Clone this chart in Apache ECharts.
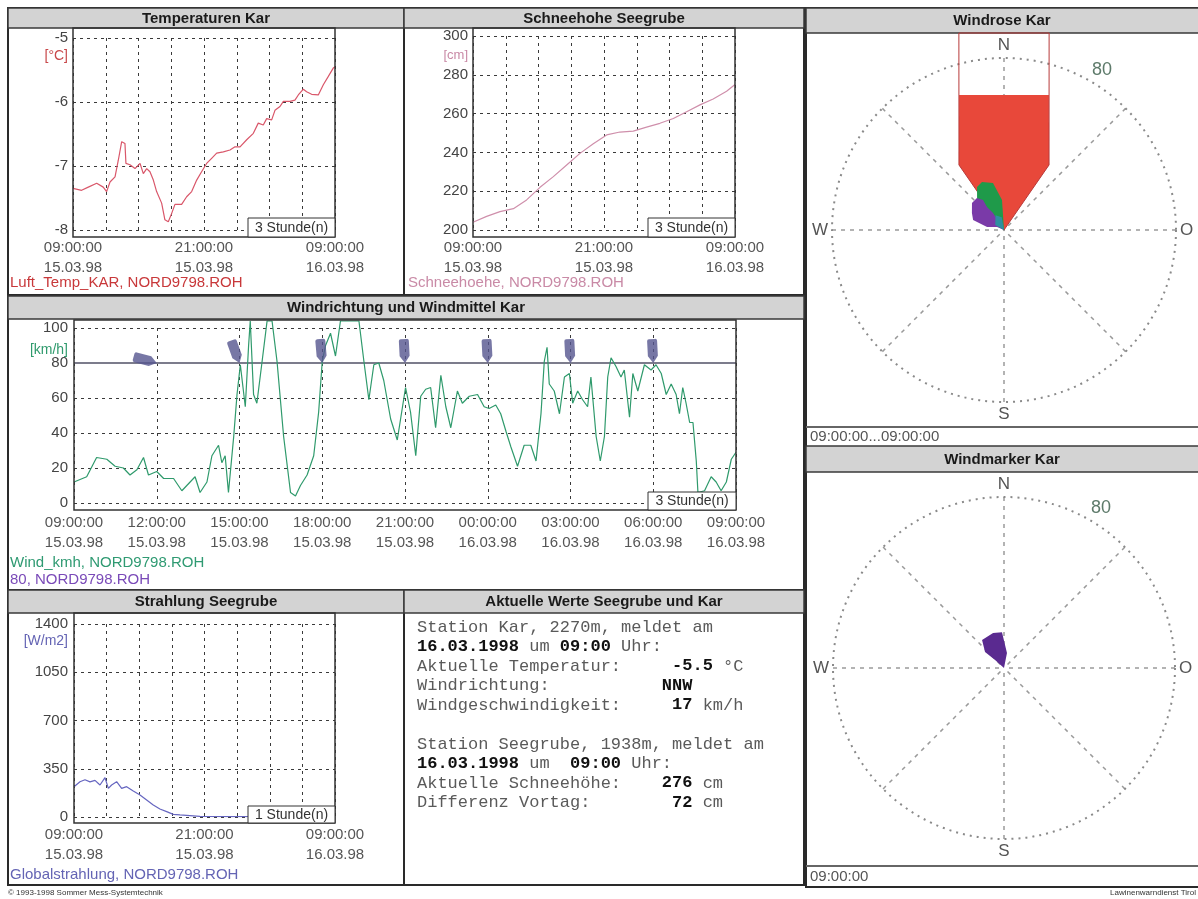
<!DOCTYPE html>
<html>
<head>
<meta charset="utf-8">
<script src="https://cdn.jsdelivr.net/npm/echarts@6.0.0/dist/echarts.min.js"></script>
<style>
html,body{margin:0;padding:0;background:#ffffff;}
#chart{width:1198px;height:899px;}
</style>
</head>
<body>
<div id="chart"></div>
<script>
// ---------------- DATA ----------------
const shortTimeTicks = ['09:00:00', '21:00:00', '09:00:00'];
const shortDateTicks = ['15.03.98', '15.03.98', '16.03.98'];
const windTimeTicks = ['09:00:00', '12:00:00', '15:00:00', '18:00:00', '21:00:00', '00:00:00', '03:00:00', '06:00:00', '09:00:00'];
const windDateTicks = ['15.03.98', '15.03.98', '15.03.98', '15.03.98', '15.03.98', '16.03.98', '16.03.98', '16.03.98', '16.03.98'];

// hours since 15.03.98 09:00
const tempHours = [0, 0.79, 1.4, 2.17, 2.77, 3.08, 3.39, 3.85, 4.15, 4.46, 4.76, 4.85, 5.22, 5.68, 6.14, 6.44, 6.75, 7.05, 7.36, 7.66, 8.12, 8.42, 8.73, 9.04, 9.34, 9.95, 10.41, 10.87, 11.33, 11.78, 12.24, 12.7, 13.16, 13.77, 14.38, 14.84, 15.3, 15.91, 16.52, 16.97, 17.43, 17.74, 18.2, 18.5, 18.96, 19.27, 19.88, 20.33, 20.64, 21.1, 21.4, 21.86, 22.47, 22.93, 23.39, 23.84, 24];
const tempValues = [-7.35, -7.38, -7.33, -7.27, -7.33, -7.4, -7.25, -7.17, -6.91, -6.62, -6.65, -6.96, -6.98, -7.04, -6.96, -7.12, -7.04, -7.09, -7.22, -7.4, -7.58, -7.84, -7.87, -7.74, -7.6, -7.6, -7.48, -7.4, -7.22, -7.09, -6.96, -6.88, -6.8, -6.78, -6.75, -6.7, -6.7, -6.59, -6.49, -6.33, -6.36, -6.26, -6.28, -6.13, -6.07, -5.99, -5.99, -5.97, -5.89, -5.8, -5.84, -5.88, -5.89, -5.73, -5.6, -5.47, -5.45];

const snowHours = [0, 1.25, 2.47, 3.7, 4.91, 6.14, 7.36, 8.58, 9.8, 11.02, 12.24, 13.46, 14.68, 15.9, 17.12, 18.35, 19.57, 20.79, 22.0, 23.23, 24];
const snowValues = [204, 207, 209.5, 211, 215.5, 222, 227.5, 233.5, 239.5, 244.5, 249, 250.5, 251, 253, 255, 257.5, 261, 264.5, 267.5, 271.5, 275];

const windHours = [0, 0.46, 0.82, 1.19, 1.49, 1.79, 2.03, 2.28, 2.52, 2.7,
  3.0, 3.25, 3.61, 3.91, 4.09, 4.39, 4.57, 4.82, 5.0, 5.24,
  5.36, 5.48, 5.6, 5.79, 5.91, 6.03, 6.21, 6.33, 6.39, 6.51,
  6.63, 6.82, 7.0, 7.18, 7.36, 7.6, 7.85, 8.03, 8.21, 8.45,
  8.69, 8.87, 9.0, 9.12, 9.3, 9.48, 9.66, 10.33, 10.51, 10.69,
  10.87, 11.05, 11.23, 11.48, 11.72, 12.02, 12.2, 12.39, 12.57, 12.75,
  12.93, 13.11, 13.3, 13.48, 13.66, 13.9, 14.08, 14.33, 14.63, 14.87,
  15.05, 15.29, 15.47, 15.66, 15.84, 16.08, 16.32, 16.56, 16.75, 16.93,
  17.05, 17.15, 17.23, 17.41, 17.6, 17.78, 17.96, 18.08, 18.26, 18.44,
  18.62, 18.74, 18.93, 19.08, 19.23, 19.35, 19.47, 19.65, 19.83, 19.95,
  20.14, 20.26, 20.44, 20.68, 20.92, 21.1, 21.29, 21.47, 21.65, 21.83,
  21.95, 22.07, 22.19, 22.32, 22.44, 22.56, 22.62, 22.86, 23.1, 23.28,
  23.46, 23.65, 23.83, 24];
const windValues = [12, 15, 26, 25, 21, 20, 16, 19, 26, 16,
  18, 14, 14, 7, 10, 15, 6, 12, 27, 33,
  23, 27, 6, 38, 62, 79, 55, 90, 104, 62,
  57, 81, 104, 104, 81, 38, 6, 4, 10, 16,
  27, 52, 81, 90, 97, 84, 104, 104, 81, 59,
  79, 80, 70, 48, 36, 66, 52, 27, 61, 65,
  66, 43, 73, 55, 43, 64, 57, 61, 62, 55,
  54, 56, 51, 41, 32, 21, 33, 33, 24, 51,
  81, 89, 68, 64, 51, 72, 74, 57, 64, 59,
  55, 72, 38, 24, 38, 72, 83, 78, 72, 76,
  49, 74, 64, 79, 76, 79, 74, 62, 68, 62,
  51, 66, 57, 46, 46, 24, 6, 7, 15, 12,
  7, 12, 25, 29];

const levelHours = [0, 24];
const levelValues = [80, 80];

const dirHours = [3, 6, 9, 12, 15, 18, 21];
const dirDegrees = [285, 340, 355, 357, 357, 357, 357];

const radHours = [0, 0.55, 1.01, 1.47, 1.93, 2.39, 2.85, 3.16, 3.46, 3.92, 4.38, 4.84, 5.45, 6.07, 6.68, 7.29, 7.9, 8.52, 9.13, 9.74, 11.58, 14.65, 17.71, 20.77, 24];
const radValues = [220, 256, 270, 255, 266, 232, 285, 208, 232, 256, 208, 220, 188, 159, 123, 87, 58, 39, 19, 15, 5, 3, 2, 2, 2];

// wind rose shapes as [speed km/h, direction deg]
const roseOutline = [[0, 0], [36.8, 325.3], [94.0, 347.1], [94.0, 12.9], [36.8, 34.7]];
const roseRed = [[0, 0], [36.8, 325.3], [66.2, 341.6], [66.2, 18.4], [36.8, 34.7]];
const roseGreen = [[0, 0], [14.8, 302.2], [23.6, 327.9], [24.6, 335.4], [22.4, 346.8], [14.0, 356.2]];
const rosePurple = [[0, 0], [3.5, 293.2], [8.0, 280], [15.1, 287.9], [16.9, 298], [19.5, 310.2], [19.5, 319.8], [17.0, 325], [13.3, 323.5], [9.4, 327.1]];
const roseTeal = [[0, 0], [4.7, 300], [7.9, 330], [6.0, 350]];
const markerShape = [[0, 0], [5.6, 311.6], [11.6, 310.1], [16.6, 321.8], [17.1, 342.6], [16.8, 356.8], [7.1, 11.3]];
const compassAngles = [0, 90, 180, 270];
const compassNames = ['N', 'O', 'S', 'W'];

const infoLines = [
  'Station Kar, 2270m, meldet am',
  '{b|16.03.1998} um {b|09:00} Uhr:',
  'Aktuelle Temperatur:     {b|-5.5} °C',
  'Windrichtung:           {b|NNW}',
  'Windgeschwindigkeit:     {b|17} km/h',
  '',
  'Station Seegrube, 1938m, meldet am',
  '{b|16.03.1998} um  {b|09:00} Uhr:',
  'Aktuelle Schneehöhe:    {b|276} cm',
  'Differenz Vortag:        {b|72} cm'
];

// ---------------- BUILD ----------------
const zip = (a, b) => a.map((x, i) => [x, b[i]]);
const FONT = 'Liberation Sans';
const C = {
  temp: '#d9576a', snow: '#cf8fab', wind: '#2f9a6c', level: '#7c7c8c', dir: '#55558f', rad: '#6666c0'
};

function timeAxis(gi, times, dates, step, margin) {
  return {
    type: 'value', gridIndex: gi, min: 0, max: 24, interval: 3,
    axisLine: { show: false }, axisTick: { show: false },
    splitLine: { show: true, lineStyle: { color: '#3a3a3a', type: [3, 4], width: 1 } },
    axisLabel: {
      margin: margin, color: '#555', fontFamily: FONT, fontSize: 15, lineHeight: 20,
      showMinLabel: true, showMaxLabel: true,
      formatter: function (v) {
        if (Math.abs(v / step - Math.round(v / step)) > 1e-6) return '';
        const i = Math.round(v / step);
        return times[i] + '\n' + dates[i];
      }
    }
  };
}
function valAxis(gi, min, max, interval, margin) {
  return {
    type: 'value', gridIndex: gi, min: min, max: max, interval: interval,
    axisLine: { show: false }, axisTick: { show: false },
    splitLine: { show: true, lineStyle: { color: '#3a3a3a', type: [3, 4], width: 1 } },
    axisLabel: {
      margin: margin, color: '#444', fontFamily: FONT, fontSize: 15,
      formatter: function (v) { return String(v); }
    }
  };
}
function lineSeries(gi, data, color, extra) {
  return Object.assign({
    type: 'line', xAxisIndex: gi, yAxisIndex: gi, data: data, symbol: 'none', showSymbol: false,
    lineStyle: { color: color, width: 1.2 }, itemStyle: { color: color }, silent: true, z: 3
  }, extra || {});
}
function polyRender(poly, fill, stroke) {
  return function (params, api) {
    if (params.dataIndex !== 0) return;
    const pts = poly.map(function (p) { return api.coord(p); });
    return {
      type: 'polygon', shape: { points: pts },
      style: { fill: fill, stroke: stroke || null, lineWidth: 1 }
    };
  };
}
function polySeries(pi, poly, fill, stroke, z) {
  return {
    type: 'custom', coordinateSystem: 'polar', polarIndex: pi, data: poly,
    renderItem: polyRender(poly, fill, stroke), clip: false, silent: true, z: z
  };
}

// graphic decorations
const G = [];
function rect(x, y, w, h, o) {
  G.push({
    type: 'rect', silent: true, z: (o.z !== undefined ? o.z : -5),
    shape: { x: x, y: y, width: w, height: h },
    style: { fill: o.fill || 'none', stroke: o.stroke || '#333', lineWidth: o.lw || 1 }
  });
}
function line(x1, y1, x2, y2, o) {
  G.push({
    type: 'line', silent: true, z: (o.z !== undefined ? o.z : 8),
    shape: { x1: x1, y1: y1, x2: x2, y2: y2 },
    style: { stroke: o.stroke || '#333', lineWidth: o.lw || 1 }
  });
}
function label(x, y, str, o) {
  o = o || {};
  const align = o.align || 'left';
  const size = o.size || 15;
  const fam = o.family || FONT;
  G.push({
    type: 'text', silent: true, x: x, y: y, z: (o.z !== undefined ? o.z : 12),
    style: {
      text: str, fill: o.color || '#444',
      font: (o.weight || 'normal') + ' ' + size + 'px "' + fam + '"',
      fontSize: size, fontFamily: fam, fontWeight: o.weight || 'normal',
      align: align, textAlign: align, verticalAlign: 'middle', textVerticalAlign: 'middle',
      rich: o.rich
    }
  });
}

// panels
const PB = { fill: '#ffffff', stroke: '#2a2a2a', lw: 2, z: -6 };
rect(8, 8, 396, 287, PB);
rect(404, 8, 400, 287, PB);
rect(8, 295, 796, 295, PB);
rect(8, 590, 396, 295, PB);
rect(404, 590, 400, 295, PB);
rect(806, 8, 400, 879, PB);
// title bars
const TB = { fill: '#d3d3d3', stroke: '#3a3a3a', lw: 1.5, z: -4 };
rect(8, 8, 396, 20, TB);
rect(404, 8, 400, 20, TB);
rect(8, 296, 796, 23, TB);
rect(8, 590, 396, 23, TB);
rect(404, 590, 400, 23, TB);
rect(806, 8, 400, 25, TB);
rect(806, 446, 400, 26, TB);
line(806, 427, 1198, 427, { stroke: '#666', lw: 2, z: -3 });
line(806, 866, 1198, 866, { stroke: '#666', lw: 2, z: -3 });
// plot boxes
const BX = { stroke: '#333', lw: 1.5, z: 9 };
rect(73, 28, 262, 209, BX);
rect(473, 28, 262, 209, BX);
rect(74, 320, 662, 190, BX);
rect(74, 613, 261, 210, BX);
// interval boxes
const SB = { fill: '#ffffff', stroke: '#333', lw: 1, z: 10 };
rect(248, 218, 87, 19, SB); label(291.5, 228, '3 Stunde(n)', { align: 'center', size: 14, color: '#333', z: 11 });
rect(648, 218, 87, 19, SB); label(691.5, 228, '3 Stunde(n)', { align: 'center', size: 14, color: '#333', z: 11 });
rect(648, 492, 88, 18, SB); label(692, 501.5, '3 Stunde(n)', { align: 'center', size: 14, color: '#333', z: 11 });
rect(248, 806, 87, 17, SB); label(291.5, 815, '1 Stunde(n)', { align: 'center', size: 14, color: '#333', z: 11 });
// titles
const TT = { align: 'center', weight: 'bold', size: 15, color: '#1a1a1a' };
label(206, 18.5, 'Temperaturen Kar', TT);
label(604, 18.5, 'Schneehohe Seegrube', TT);
label(406, 308, 'Windrichtung und Windmittel Kar', TT);
label(206, 602, 'Strahlung Seegrube', TT);
label(604, 602, 'Aktuelle Werte Seegrube und Kar', TT);
label(1002, 21, 'Windrose Kar', TT);
label(1002, 459.5, 'Windmarker Kar', TT);
// units
label(68, 56, '[°C]', { align: 'right', size: 14, color: '#c8484a' });
label(468, 55, '[cm]', { align: 'right', size: 13, color: '#c98aa6' });
label(68, 350, '[km/h]', { align: 'right', size: 14, color: '#2f9a6c' });
label(68, 641, '[W/m2]', { align: 'right', size: 14, color: '#6464b4' });
// legends
label(10, 283, 'Luft_Temp_KAR, NORD9798.ROH', { color: '#c8383a' });
label(408, 283, 'Schneehoehe, NORD9798.ROH', { color: '#c98aa6' });
label(10, 563, 'Wind_kmh, NORD9798.ROH', { color: '#2f9a72' });
label(10, 580, '80, NORD9798.ROH', { color: '#7a4ab8' });
label(10, 875, 'Globalstrahlung, NORD9798.ROH', { color: '#6464b4' });
// wind rose extras
label(1102, 70, '80', { align: 'center', size: 18, color: '#5d7a6a' });
label(1101, 508, '80', { align: 'center', size: 18, color: '#5d7a6a' });
label(810, 437, '09:00:00...09:00:00', { size: 15, color: '#555' });
label(810, 877, '09:00:00', { size: 15, color: '#555' });
// footer
label(8, 893, '© 1993-1998 Sommer Mess-Systemtechnik', { size: 8, color: '#333' });
label(1196, 893, 'Lawinenwarndienst Tirol', { size: 8, color: '#333', align: 'right' });
// info text
infoLines.forEach(function (t, i) {
  if (t === '') return;
  label(417, 627 + i * 19.5, t, {
    family: 'Liberation Mono', size: 17, color: '#5a5a5a',
    rich: { b: { fontFamily: 'Liberation Mono', fontSize: 17, fontWeight: 'bold', fill: '#111', color: '#111' } }
  });
});

const pinPath = 'path://M-5,-22 Q-5,-24 -3,-24 L3,-24 Q5,-24 5,-22 L5,-7 L0,0 L-5,-7 Z M0,24';

const option = {
  animation: false,
  backgroundColor: '#ffffff',
  grid: [
    { left: 73, top: 38, width: 262, height: 192 },
    { left: 473, top: 36, width: 262, height: 194 },
    { left: 74, top: 328, width: 662, height: 175 },
    { left: 74, top: 624, width: 261, height: 193 }
  ],
  xAxis: [
    timeAxis(0, shortTimeTicks, shortDateTicks, 12, 8),
    timeAxis(1, shortTimeTicks, shortDateTicks, 12, 8),
    timeAxis(2, windTimeTicks, windDateTicks, 3, 10),
    timeAxis(3, shortTimeTicks, shortDateTicks, 12, 8)
  ],
  yAxis: [
    valAxis(0, -8, -5, 1, 5),
    valAxis(1, 200, 300, 20, 5),
    valAxis(2, 0, 100, 20, 6),
    valAxis(3, 0, 1400, 350, 6)
  ],
  polar: [
    { center: [1004, 230], radius: 172 },
    { center: [1004, 668], radius: 171 }
  ],
  angleAxis: [0, 1].map(function (i) {
    return {
      polarIndex: i, type: 'value', min: 0, max: 360, interval: 45, startAngle: 90, clockwise: true,
      axisLine: { show: true, lineStyle: { color: '#8a8a8a', type: [2, 5], width: 2 } },
      axisTick: { show: false },
      axisLabel: {
        show: true, margin: 4, color: '#555', fontFamily: FONT, fontSize: 17,
        formatter: function (v) { const k = compassAngles.indexOf(v); return k >= 0 ? compassNames[k] : ''; }
      },
      splitLine: { show: true, lineStyle: { color: '#9a9a9a', type: [4, 5], width: 1.5 } }
    };
  }),
  radiusAxis: [0, 1].map(function (i) {
    return {
      polarIndex: i, type: 'value', min: 0, max: 80,
      axisLine: { show: false }, axisTick: { show: false }, axisLabel: { show: false }, splitLine: { show: false }
    };
  }),
  graphic: { elements: G },
  series: [
    lineSeries(0, zip(tempHours, tempValues), C.temp),
    lineSeries(1, zip(snowHours, snowValues), C.snow),
    lineSeries(2, zip(levelHours, levelValues), C.level, { lineStyle: { color: C.level, width: 2 }, z: 2 }),
    lineSeries(2, zip(windHours, windValues), C.wind, { clip: false }),
    {
      type: 'scatter', xAxisIndex: 2, yAxisIndex: 2, symbol: pinPath, symbolSize: [10, 48],
      itemStyle: { color: C.dir }, silent: true, z: 4,
      data: dirHours.map(function (h, i) { return { value: [h, levelValues[0]], symbolRotate: 360 - dirDegrees[i] }; })
    },
    lineSeries(3, zip(radHours, radValues), C.rad),
    polySeries(0, roseRed, '#e8483a', null, 3),
    polySeries(0, roseOutline, 'none', '#b83a3a', 4),
    polySeries(0, roseGreen, '#1f9a4a', null, 5),
    polySeries(0, rosePurple, '#7a3aa8', null, 6),
    polySeries(0, roseTeal, '#2f8fa0', null, 7),
    polySeries(1, markerShape, '#5a2a90', null, 5)
  ]
};

const chart = echarts.init(document.getElementById('chart'), null, { renderer: 'canvas' });
chart.setOption(option);
</script>
</body>
</html>
